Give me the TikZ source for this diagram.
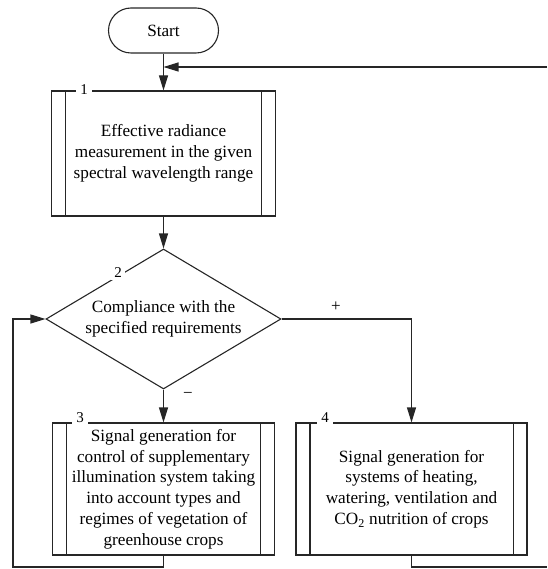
\documentclass[tikz,border=0pt]{standalone}
\usepackage{fontspec}
\setmainfont{Liberation Serif}
\usetikzlibrary{arrows.meta,shapes.geometric,calc}
\begin{document}
\begin{tikzpicture}[x=1pt,y=-1pt,
  every node/.style={font=\fontsize{17.2}{20.8}\selectfont},
  ln/.style={line width=1.1pt, draw=black!85},
  arr/.style={ln, -{Triangle[length=15pt,width=9pt]}},
  proc/.style={ln, rectangle, inner sep=0pt, align=center},
  numlab/.style={fill=white, inner xsep=4pt, inner ysep=1pt, font=\fontsize{15}{15}\selectfont},
  sign/.style={inner sep=0pt, font=\fontsize{17}{17}\selectfont}]
\useasboundingbox (0,0) rectangle (547,569);

% nodes
\node[ln, rounded corners=22.5pt, minimum width=110pt, minimum height=45pt, inner sep=0pt] (start) at (163.5,30.5) {Start};
\node[proc, minimum width=224pt, minimum height=125pt] (b1) at (163.5,153.5) {Effective radiance\\measurement in the given\\spectral wavelength range};
\node[ln, diamond, aspect=1.68, minimum width=235pt, minimum height=140pt, inner sep=0pt, align=center] (d) at (163.5,319) {Compliance with the\\specified requirements};
\node[proc, minimum width=222pt, minimum height=132pt] (b3) at (163.5,489) {Signal generation for\\control of supplementary\\illumination system taking\\into account types and\\regimes of vegetation of\\greenhouse crops};
\node[proc, minimum width=231pt, minimum height=132pt] (b4) at (411.5,489) {Signal generation for\\systems of heating,\\watering, ventilation and\\CO\textsubscript{2} nutrition of crops};

% inner vertical lines of the subprocess boxes
\foreach \b in {b1,b3,b4}{
  \draw[ln] ($(\b.north west)+(14.5,0)$) -- ($(\b.south west)+(14.5,0)$);
  \draw[ln] ($(\b.north east)+(-14.5,0)$) -- ($(\b.south east)+(-14.5,0)$);
}

% number labels
\node[numlab] (n1) at (84,90) {1};
\node[numlab, inner xsep=3pt, inner ysep=2pt] (n2) at (118,273) {2};
\node[numlab] (n3) at (80,418) {3};
\node[numlab] (n4) at (325,418) {4};

% connectors
\draw[arr] (start.south) -- (start.south |- b1.north);
\coordinate (fbR) at (547,67);
\coordinate (fbJ) at (start.south |- fbR);
\draw[arr] (fbR) -- (fbJ);
\draw[arr] (b1.south) -- (d.north);
\draw[arr] (d.east) -| (b4.north);
\node[sign] (plus) at (336,307) {+};
\draw[arr] (d.south) -- (b3.north);
\node[sign] (minus) at (188,395) {−};
\coordinate (lb) at (13,567);
\draw[arr] (b3.south) |- (lb) |- (d.west);
\coordinate (rb) at (547,567);
\draw[ln] (b4.south) |- (rb);
\end{tikzpicture}
\end{document}
